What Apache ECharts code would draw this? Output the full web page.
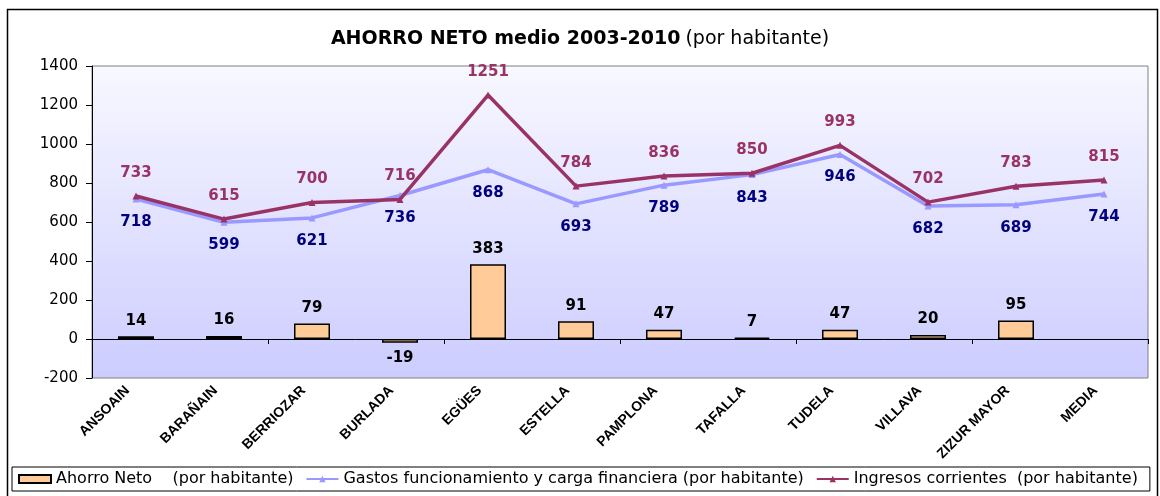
<!DOCTYPE html>
<html>
<head>
<meta charset="utf-8">
<script src="https://cdn.jsdelivr.net/npm/echarts@6/dist/echarts.min.js"></script>
<style>
  html, body { margin: 0; padding: 0; background: #fff; }
  #main { width: 1160px; height: 496px; }
</style>
</head>
<body>
<div id="main"></div>
<script>
// municipios y valores medios por habitante
var municipios = ['ANSOAIN', 'BARAÑAIN', 'BERRIOZAR', 'BURLADA', 'EGÜES', 'ESTELLA',
    'PAMPLONA', 'TAFALLA', 'TUDELA', 'VILLAVA', 'ZIZUR MAYOR', 'MEDIA'];
var ahorroNeto = [14, 16, 79, -19, 383, 91, 47, 7, 47, 20, 95, null];
var gastos = [718, 599, 621, 736, 868, 693, 789, 843, 946, 682, 689, 744];
var ingresos = [733, 615, 700, 716, 1251, 784, 836, 850, 993, 702, 783, 815];
var yTicks = [-200, 0, 200, 400, 600, 800, 1000, 1200, 1400];

var ARIAL = 'Liberation Sans, Arial, sans-serif';
// la imagen original está algo estirada en horizontal: DejaVu es más ancha
var WIDE = 'DejaVu Sans, Verdana, sans-serif';

var myChart = echarts.init(document.getElementById('main'));

// barras: etiqueta encima si positivo, debajo si negativo
var barData = ahorroNeto.map(function (v) {
    if (v === null) return '-';
    return {
        value: v,
        label: {position: v < 0 ? 'bottom' : 'top'}
    };
});

var option = {
    animation: false,
    backgroundColor: '#fff',
    textStyle: {fontFamily: ARIAL},
    title: {
        text: '{b|AHORRO NETO medio 2003-2010} {n|(por habitante)}',
        left: 'center',
        top: 25,
        textStyle: {
            rich: {
                b: {fontSize: 19, fontWeight: 'bold', color: '#000', fontFamily: WIDE},
                n: {fontSize: 19, fontWeight: 'normal', color: '#000', fontFamily: WIDE}
            }
        }
    },
    graphic: [{
        type: 'rect',
        shape: {x: 7.5, y: 9.5, width: 1150, height: 500},
        style: {fill: 'none', stroke: '#000', lineWidth: 1.5},
        silent: true,
        z: 0
    }],
    legend: {
        left: 12,
        bottom: 5,
        orient: 'horizontal',
        padding: [4, 12, 4, 6],
        borderColor: '#000',
        borderWidth: 1,
        itemGap: 12,
        itemWidth: 32,
        itemHeight: 8,
        textStyle: {fontSize: 16, color: '#000', fontFamily: WIDE},
        data: [
            {name: 'Ahorro Neto    (por habitante)', icon: 'rect'},
            {name: 'Gastos funcionamiento y carga financiera (por habitante)'},
            {name: 'Ingresos corrientes  (por habitante)'}
        ]
    },
    grid: {
        left: 92,
        top: 66,
        right: 12,
        bottom: 118,
        show: true,
        borderColor: '#808080',
        borderWidth: 1,
        backgroundColor: new echarts.graphic.LinearGradient(0, 0, 0, 1, [
            {offset: 0, color: '#f8f8ff'},
            {offset: 1, color: '#ccccff'}
        ])
    },
    xAxis: [
        {
            type: 'category',
            data: municipios,
            axisLine: {onZero: true, lineStyle: {color: '#000', width: 1}},
            axisTick: {show: true, length: 5, lineStyle: {color: '#000'}},
            axisLabel: {show: false}
        },
        {
            type: 'category',
            data: municipios,
            position: 'bottom',
            axisLine: {show: false, onZero: false},
            axisTick: {show: false},
            axisLabel: {
                rotate: 45,
                margin: 2,
                padding: [0, 12, 0, 0],
                interval: 0,
                fontSize: 14,
                fontWeight: 'bold',
                color: '#000',
                fontFamily: ARIAL
            }
        }
    ],
    yAxis: {
        type: 'value',
        min: yTicks[0],
        max: yTicks[yTicks.length - 1],
        interval: 200,
        axisLine: {show: true, lineStyle: {color: '#000'}},
        axisTick: {show: true, length: 6, lineStyle: {color: '#000'}},
        splitLine: {show: false},
        axisLabel: {
            fontSize: 15,
            color: '#000',
            margin: 14,
            fontFamily: WIDE,
            formatter: function (v) { return String(v); }
        }
    },
    series: [
        {
            name: 'Ahorro Neto    (por habitante)',
            type: 'bar',
            xAxisIndex: 0,
            barWidth: 36,
            data: barData,
            itemStyle: {color: '#ffcc99', borderColor: '#000', borderWidth: 1.5},
            label: {
                show: true,
                distance: 8,
                fontSize: 15,
                fontWeight: 'bold',
                color: '#000',
                fontFamily: WIDE
            },
            z: 2
        },
        {
            name: 'Gastos funcionamiento y carga financiera (por habitante)',
            type: 'line',
            xAxisIndex: 0,
            data: gastos,
            symbol: 'triangle',
            symbolSize: 7,
            lineStyle: {color: '#9999ff', width: 3.5},
            itemStyle: {color: '#9999ff'},
            label: {
                show: true,
                position: 'bottom',
                distance: 12,
                fontSize: 15,
                fontWeight: 'bold',
                color: '#000080',
                fontFamily: WIDE
            },
            z: 3
        },
        {
            name: 'Ingresos corrientes  (por habitante)',
            type: 'line',
            xAxisIndex: 0,
            data: ingresos,
            symbol: 'triangle',
            symbolSize: 7,
            lineStyle: {color: '#993366', width: 3.5},
            itemStyle: {color: '#993366'},
            label: {
                show: true,
                position: 'top',
                distance: 12,
                fontSize: 15,
                fontWeight: 'bold',
                color: '#993366',
                fontFamily: WIDE
            },
            z: 4
        }
    ]
};

myChart.setOption(option);
</script>
</body>
</html>
